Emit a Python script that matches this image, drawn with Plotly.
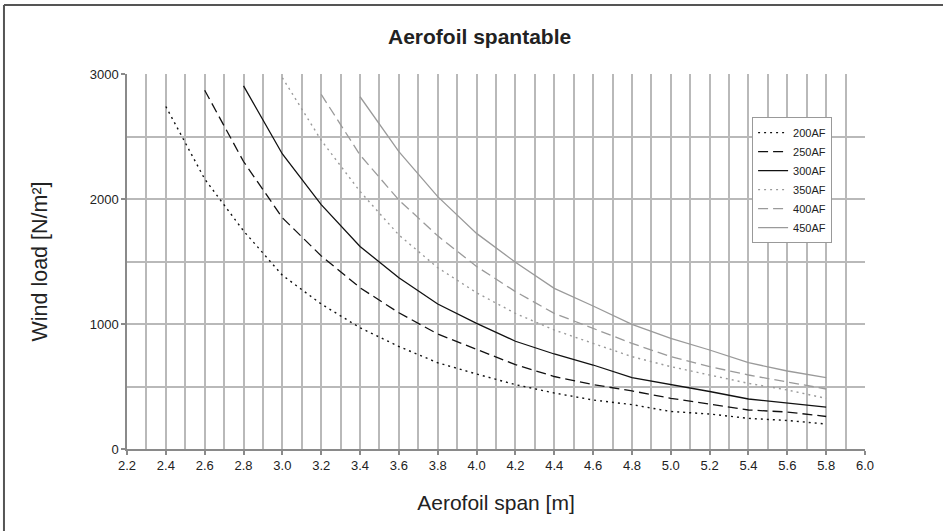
import plotly.graph_objects as go

# ---- data ----
x200 = [2.4, 2.6, 2.8, 3.0, 3.2, 3.4, 3.6, 3.8, 4.0, 4.2, 4.4, 4.6, 4.8, 5.0, 5.2, 5.4, 5.6, 5.8]
y200 = [2740, 2160, 1745, 1390, 1160, 970, 820, 690, 600, 515, 448, 392, 355, 300, 280, 245, 228, 200]

x250 = [2.6, 2.8, 3.0, 3.2, 3.4, 3.6, 3.8, 4.0, 4.2, 4.4, 4.6, 4.8, 5.0, 5.2, 5.4, 5.6, 5.8]
y250 = [2870, 2300, 1850, 1545, 1290, 1090, 920, 800, 675, 580, 515, 465, 405, 360, 312, 296, 260]

x300 = [2.8, 3.0, 3.2, 3.4, 3.6, 3.8, 4.0, 4.2, 4.4, 4.6, 4.8, 5.0, 5.2, 5.4, 5.6, 5.8]
y300 = [2905, 2360, 1955, 1620, 1370, 1160, 1005, 862, 760, 672, 571, 517, 460, 400, 370, 335]

x350 = [3.0, 3.2, 3.4, 3.6, 3.8, 4.0, 4.2, 4.4, 4.6, 4.8, 5.0, 5.2, 5.4, 5.6, 5.8]
y350 = [2970, 2470, 2060, 1712, 1450, 1250, 1085, 952, 845, 739, 659, 592, 525, 472, 405]

x400 = [3.2, 3.4, 3.6, 3.8, 4.0, 4.2, 4.4, 4.6, 4.8, 5.0, 5.2, 5.4, 5.6, 5.8]
y400 = [2837, 2352, 1992, 1705, 1460, 1259, 1085, 965, 845, 739, 659, 592, 539, 480]

x450 = [3.4, 3.6, 3.8, 4.0, 4.2, 4.4, 4.6, 4.8, 5.0, 5.2, 5.4, 5.6, 5.8]
y450 = [2818, 2379, 2019, 1725, 1494, 1285, 1144, 997, 885, 792, 691, 624, 571]

series_names = ["200AF", "250AF", "300AF", "350AF", "400AF", "450AF"]
xs = [x200, x250, x300, x350, x400, x450]
ys = [y200, y250, y300, y350, y400, y450]

x_tick_vals = [2.2, 2.4, 2.6, 2.8, 3.0, 3.2, 3.4, 3.6, 3.8, 4.0, 4.2, 4.4, 4.6, 4.8, 5.0, 5.2, 5.4, 5.6, 5.8, 6.0]
x_tick_text = ["2.2", "2.4", "2.6", "2.8", "3.0", "3.2", "3.4", "3.6", "3.8", "4.0", "4.2", "4.4", "4.6", "4.8", "5.0", "5.2", "5.4", "5.6", "5.8", "6.0"]
y_tick_vals = [0, 1000, 2000, 3000]

# ---- styles ----
styles = [
    dict(color="#111111", dash="2px,4px", width=1.4),
    dict(color="#111111", dash="10px,5px", width=1.3),
    dict(color="#111111", dash="solid", width=1.3),
    dict(color="#9a9a9a", dash="2px,4px", width=1.4),
    dict(color="#9a9a9a", dash="10px,5px", width=1.3),
    dict(color="#9a9a9a", dash="solid", width=1.3),
]

fig = go.Figure()
for name, xv, yv, st in zip(series_names, xs, ys, styles):
    fig.add_trace(go.Scatter(x=xv, y=yv, mode="lines", name=name, line=st))

FONT = "Liberation Sans, Arial, sans-serif"
grid_col = "#b9b9b9"
TXT = "#222222"

fig.update_layout(
    width=943, height=531,
    margin=dict(l=127, r=78, t=74, b=82),
    paper_bgcolor="white", plot_bgcolor="white",
    font=dict(family=FONT, color=TXT, size=11),
    showlegend=True,
    legend=dict(
        x=0.847, y=0.885, xanchor="left", yanchor="top",
        bgcolor="white", bordercolor="#999999", borderwidth=1,
        font=dict(size=11, family=FONT, color=TXT),
        tracegroupgap=0, itemwidth=30,
    ),
    xaxis=dict(
        range=[2.2, 6.0], tickvals=x_tick_vals, ticktext=x_tick_text,
        showgrid=True, gridcolor=grid_col, gridwidth=1.5,
        minor=dict(dtick=0.1, tick0=2.2, showgrid=True, gridcolor=grid_col, gridwidth=1.5),
        showline=True, linecolor="#8a8a8a", linewidth=1.5,
        ticks="outside", ticklen=4, tickcolor="#8a8a8a", tickwidth=1.5,
        tickfont=dict(size=13, family=FONT, color=TXT),
        zeroline=False, mirror=False,
        title=dict(text="Aerofoil span [m]", font=dict(size=21, family=FONT, color=TXT), standoff=23),
    ),
    yaxis=dict(
        range=[0, 3000], tickvals=y_tick_vals,
        showgrid=True, gridcolor=grid_col, gridwidth=1.5,
        minor=dict(dtick=500, tick0=0, showgrid=True, gridcolor=grid_col, gridwidth=1.5),
        showline=True, linecolor="#8a8a8a", linewidth=1.5,
        ticks="outside", ticklen=4, tickcolor="#8a8a8a", tickwidth=1.5,
        tickfont=dict(size=13, family=FONT, color=TXT),
        zeroline=False,
        title=dict(text="Wind load [N/m²]", font=dict(size=21.5, family=FONT, color=TXT), standoff=36),
    ),
    shapes=[
        dict(type="line", xref="paper", yref="paper", x0=-0.1667, x1=-0.1667, y0=1.184, y1=-0.23,
             line=dict(color="#555555", width=2)),
        dict(type="line", xref="paper", yref="paper", x0=-0.1667, x1=1.11, y0=1.184, y1=1.184,
             line=dict(color="#555555", width=2)),
    ],
    annotations=[
        dict(text="<b>Aerofoil spantable</b>", xref="paper", yref="paper", x=0.478, y=1.099,
             xanchor="center", yanchor="middle", showarrow=False,
             font=dict(size=21, family=FONT, color=TXT)),
    ],
)

fig.write_html("out.html", config={"displayModeBar": False},
               post_script="document.body.style.margin='0';")
